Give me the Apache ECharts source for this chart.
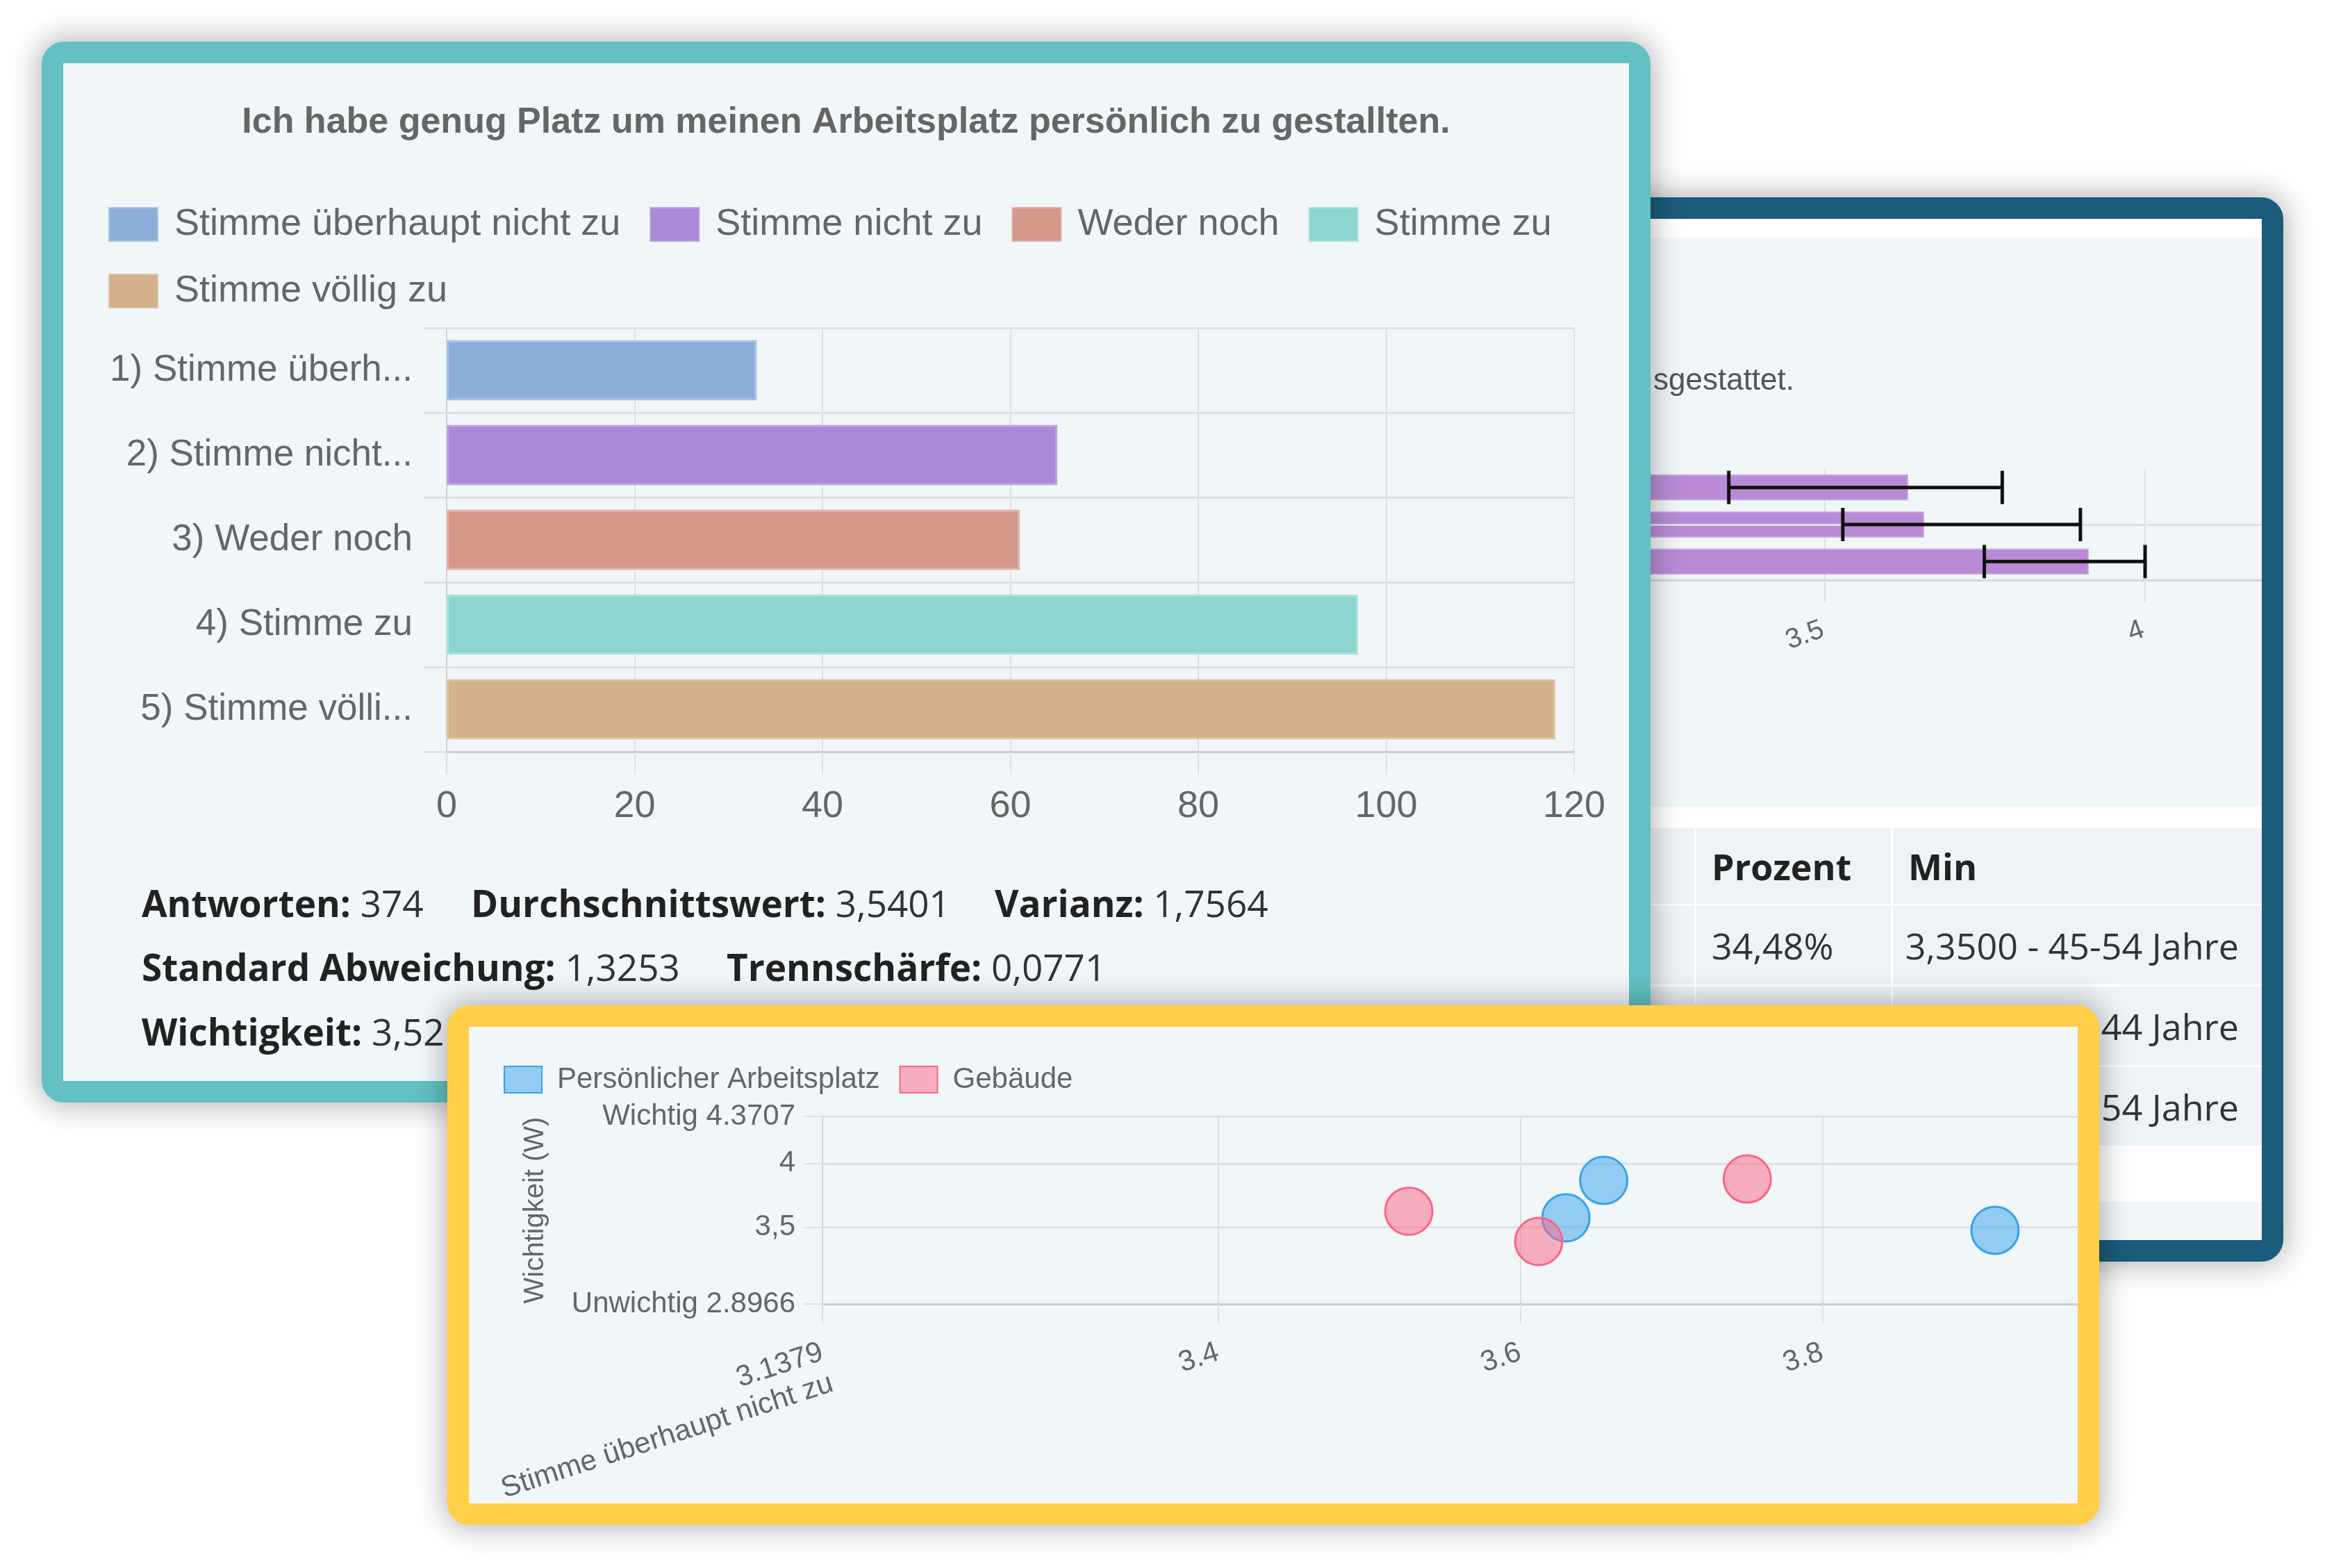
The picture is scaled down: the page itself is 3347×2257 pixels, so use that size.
<!DOCTYPE html>
<html><head><meta charset="utf-8">
<script src="https://cdn.jsdelivr.net/npm/echarts@6/dist/echarts.min.js"></script>
<style>
html,body{margin:0;padding:0;background:#fff;width:3347px;height:2257px;overflow:hidden;}
.panel{position:absolute;box-sizing:border-box;border-style:solid;border-width:31px;border-radius:32px;overflow:hidden;box-shadow:0 0 40px 6px rgba(0,0,0,0.28);}
#pRight{left:2100px;top:284px;width:1187px;height:1532px;border-color:#1b5b7b;background:#fff;z-index:1;}
#pLeft{left:60px;top:60px;width:2316px;height:1527px;border-color:#63c0c3;background:#f1f6f9;z-index:2;}
#pBottom{left:644px;top:1447px;width:2378px;height:748px;border-color:#ffcf48;background:#f1f6f9;z-index:3;}
.abs{position:absolute;}
.stat{position:absolute;font-family:'Open Sans',sans-serif;font-size:53px;line-height:70px;height:70px;color:#333;white-space:nowrap;}
.stat b{color:#222;font-weight:700;}
.cell{position:absolute;background:#eef3f6;box-sizing:border-box;font-family:'Open Sans',sans-serif;font-size:52px;color:#333;white-space:nowrap;}
.cell.h{font-weight:700;color:#222;}
</style></head>
<body>
<div id="pRight" class="panel">
  <div class="abs" style="left:0;top:27px;width:1125px;height:819px;background:#f1f6f9;"></div>
  <div id="c2" class="abs" style="left:0;top:27px;width:1500px;height:819px;"></div>
  <div id="tbl" class="abs" style="left:0;top:877px;width:1125px;height:460px;"></div>
  <div class="abs" style="left:0;top:1415px;width:1125px;height:60px;background:#f1f6f9;"></div>
</div>
<div id="pLeft" class="panel">
  <div id="c1" class="abs" style="left:0;top:0;width:2254px;height:1110px;"></div>
  <div id="stats"></div>
</div>
<div id="pBottom" class="panel">
  <div id="c3" class="abs" style="left:0;top:0;width:2400px;height:686px;"></div>
</div>
<script>
// ---------- data ----------
const answerLabels = ['1) Stimme überh...', '2) Stimme nicht...', '3) Weder noch', '4) Stimme zu', '5) Stimme völli...'];
const answerNames = ['Stimme überhaupt nicht zu', 'Stimme nicht zu', 'Weder noch', 'Stimme zu', 'Stimme völlig zu'];
const answerCounts = [33, 65, 61, 97, 118];
const countTicks = [0, 20, 40, 60, 80, 100, 120];
const chartTitle = 'Ich habe genug Platz um meinen Arbeitsplatz persönlich zu gestallten.';

const statsLines = [
  [['Antworten:', '374'], ['Durchschnittswert:', '3,5401'], ['Varianz:', '1,7564']],
  [['Standard Abweichung:', '1,3253'], ['Trennschärfe:', '0,0771']],
  [['Wichtigkeit:', '3,52']]
];

const groupTitle = 'sgestattet.';
const groupKeys = ['A', 'B', 'C'];
const groupMeans = [3.63, 3.655, 3.912];
const groupLow = [3.35, 3.528, 3.749];
const groupHigh = [3.777, 3.899, 4.0];

const tableHeader = ['', 'Prozent', 'Min'];
const tableRows = [
  ['', '34,48%', '3,3500 - 45-54 Jahre'],
  ['', '', '44 Jahre'],
  ['', '', '54 Jahre']
];

const scatterNames = ['Persönlicher Arbeitsplatz', 'Gebäude'];
const workplacePoints = [[3.630, 3.574], [3.655, 3.868], [3.914, 3.476]];
const buildingPoints = [[3.526, 3.626], [3.612, 3.388], [3.750, 3.879]];
const xMinValue = 3.1379;
const yMinValue = 2.8966;
const yMaxValue = 4.3707;
const xTickValues = [3.1379, 3.4, 3.6, 3.8];
const xTickLabels = ['3.1379\nStimme überhaupt nicht zu', '3.4', '3.6', '3.8'];
const yTickValues = [2.8966, 3.5, 4, 4.3707];
const yTickLabels = ['Unwichtig 2.8966', '3,5', '4', 'Wichtig 4.3707'];
const yAxisTitle = 'Wichtigkeit (W)';

// ---------- styles ----------
const FONT = "'Liberation Sans', Arial, sans-serif";
const GREY = '#666';
const answerColors = ['#8daed8', '#a98ad7', '#d4998a', '#8cd6cf', '#d4b18b'];
const answerBorders = ['#a9c3e3', '#bda5e1', '#e0b2a6', '#a9e2dc', '#dfc3a5'];
const GRIDC = '#dde1e4';

function lookup(vals, labels, v) {
  for (let i = 0; i < vals.length; i++) if (Math.abs(vals[i] - v) < 1e-6) return labels[i];
  return '';
}

// ---------- stats (HTML text) ----------
(function () {
  const xs = [[113, 587, 1341], [113, 955], [113]];
  const ys = [1174, 1266, 1359];
  const box = document.getElementById('stats');
  statsLines.forEach((line, li) => {
    line.forEach((seg, si) => {
      const d = document.createElement('div');
      d.className = 'stat';
      d.style.left = xs[li][si] + 'px';
      d.style.top = ys[li] + 'px';
      d.innerHTML = '<b>' + seg[0] + '</b> ' + seg[1];
      box.appendChild(d);
    });
  });
})();

// ---------- table (HTML) ----------
(function () {
  const tbl = document.getElementById('tbl');
  const colX = [0, 311, 594], colW = [308, 280, 531];
  const rowY = [0, 112, 228, 344], rowH = [109, 113, 113, 113];
  const rows = [tableHeader].concat(tableRows);
  rows.forEach((r, ri) => {
    r.forEach((txt, ci) => {
      const d = document.createElement('div');
      d.className = 'cell' + (ri === 0 ? ' h' : '');
      d.style.left = colX[ci] + 'px';
      d.style.top = rowY[ri] + 'px';
      d.style.width = colW[ci] + 'px';
      d.style.height = rowH[ri] + 'px';
      d.style.lineHeight = rowH[ri] + 'px';
      if (ci === 2 && ri > 0) { d.style.textAlign = 'right'; d.style.paddingRight = '33px'; }
      else { d.style.paddingLeft = '22px'; }
      d.textContent = txt;
      tbl.appendChild(d);
    });
  });
})();

// ---------- chart 1: horizontal bars ----------
const c1 = echarts.init(document.getElementById('c1'));
c1.setOption({
  animation: false,
  title: { text: chartTitle, left: 'center', top: 60, padding: 0,
    textStyle: { fontFamily: FONT, fontSize: 52, fontWeight: 'bold', color: GREY } },
  legend: { data: answerNames, left: 65, top: 205, width: 2110, padding: 0,
    icon: 'rect', itemWidth: 70, itemHeight: 48, itemGap: 42,
    textStyle: { fontFamily: FONT, fontSize: 54, color: GREY, padding: [0, 0, 0, 19] } },
  grid: { left: 552, top: 381, width: 1623, height: 610, containLabel: false, outerBoundsMode: 'none' },
  xAxis: { type: 'value', min: countTicks[0], max: countTicks[countTicks.length - 1], interval: countTicks[1] - countTicks[0],
    axisLine: { show: true, lineStyle: { color: '#c9cdd0', width: 3 } },
    axisTick: { show: true, length: 33, lineStyle: { color: GRIDC, width: 2 } },
    splitLine: { show: true, lineStyle: { color: GRIDC, width: 2 } },
    axisLabel: { fontFamily: FONT, fontSize: 54, color: GREY, margin: 52 } },
  yAxis: { type: 'category', data: answerLabels, inverse: true,
    axisLine: { show: true, lineStyle: { color: '#d3d7da', width: 2 } },
    axisTick: { show: true, length: 33, alignWithLabel: false, lineStyle: { color: GRIDC, width: 3 } },
    splitLine: { show: true, lineStyle: { color: GRIDC, width: 3 } },
    axisLabel: { fontFamily: FONT, fontSize: 53, color: GREY, margin: 49, interval: 0 } },
  series: answerNames.map((n, i) => ({
    name: n, type: 'bar', stack: 'all', barCategoryGap: '29%',
    data: answerLabels.map((c, j) => (j === i ? answerCounts[i] : '-')),
    itemStyle: { color: answerColors[i], borderColor: answerBorders[i], borderWidth: 3 }
  }))
});

// ---------- chart 2: group means with error bars ----------
const c2 = echarts.init(document.getElementById('c2'));
c2.setOption({
  animation: false,
  title: { text: groupTitle, left: 249, top: 185, padding: 0,
    textStyle: { fontFamily: FONT, fontSize: 44, fontWeight: 'normal', color: '#555' } },
  grid: { left: 35, top: 333, width: 1383, height: 160, containLabel: false, outerBoundsMode: 'none' },
  xAxis: { type: 'value', min: 3, max: 4.5, interval: 0.5,
    axisLine: { show: true, lineStyle: { color: '#d3d7da', width: 3 } },
    axisTick: { show: true, length: 32, lineStyle: { color: GRIDC, width: 2 } },
    splitLine: { show: true, lineStyle: { color: GRIDC, width: 2 } },
    axisLabel: { fontFamily: FONT, fontSize: 40, color: GREY, rotate: 20, align: 'right', verticalAlign: 'top', margin: 48, padding: [0, 10, 0, 0] } },
  yAxis: { type: 'category', data: groupKeys, inverse: true,
    axisLine: { show: false }, axisTick: { show: false }, splitLine: { show: false }, axisLabel: { show: false } },
  series: [
    { type: 'bar', data: groupMeans, barCategoryGap: '30%',
      itemStyle: { color: '#b98bd6', borderColor: '#c8a4e0', borderWidth: 2 },
      markLine: { silent: true, symbol: 'none', label: { show: false },
        lineStyle: { color: GRIDC, width: 3, type: 'solid' },
        data: [{ yAxis: groupKeys[1] }] } },
    { type: 'custom', data: groupKeys.map((k, i) => [i, groupLow[i], groupHigh[i]]),
      encode: { y: 0, x: [1, 2] }, z: 5,
      renderItem: function (params, api) {
        const idx = api.value(0);
        const a = api.coord([api.value(1), idx]);
        const b = api.coord([api.value(2), idx]);
        const h = api.size([0, 1])[1] * 0.45;
        const st = { stroke: '#111', lineWidth: 5 };
        return { type: 'group', children: [
          { type: 'line', shape: { x1: a[0], y1: a[1], x2: b[0], y2: b[1] }, style: st },
          { type: 'line', shape: { x1: a[0], y1: a[1] - h, x2: a[0], y2: a[1] + h }, style: st },
          { type: 'line', shape: { x1: b[0], y1: b[1] - h, x2: b[0], y2: b[1] + h }, style: st }
        ] };
      } }
  ]
});

// ---------- chart 3: scatter ----------
const c3 = echarts.init(document.getElementById('c3'));
c3.setOption({
  animation: false,
  legend: { data: scatterNames, left: 50, top: 55, padding: 0, icon: 'rect',
    itemWidth: 54, itemHeight: 38, itemGap: 28,
    textStyle: { fontFamily: FONT, fontSize: 42, color: GREY, padding: [0, 0, 0, 17] } },
  grid: { left: 509, top: 129, width: 1875, height: 270, containLabel: false, outerBoundsMode: 'none' },
  xAxis: { type: 'value', min: xMinValue, max: 4,
    axisLine: { show: true, lineStyle: { color: '#c9cdd0', width: 3 } },
    axisTick: { show: true, length: 28, customValues: xTickValues, lineStyle: { color: GRIDC, width: 2 } },
    splitLine: { show: true, lineStyle: { color: GRIDC, width: 2 } },
    axisLabel: { customValues: xTickValues, formatter: v => lookup(xTickValues, xTickLabels, v),
      fontFamily: FONT, fontSize: 42, color: GREY, rotate: 18, align: 'right', verticalAlign: 'top', margin: 44, lineHeight: 47, padding: [0, 8, 0, 0] } },
  yAxis: { type: 'value', min: yMinValue, max: yMaxValue,
    name: yAxisTitle, nameLocation: 'middle', nameGap: 393,
    nameTextStyle: { fontFamily: FONT, fontSize: 40, color: GREY },
    axisLine: { show: true, lineStyle: { color: '#d3d7da', width: 2 } },
    axisTick: { show: true, length: 27, customValues: yTickValues, lineStyle: { color: GRIDC, width: 2 } },
    splitLine: { show: true, lineStyle: { color: GRIDC, width: 3 } },
    axisLabel: { customValues: yTickValues, formatter: v => lookup(yTickValues, yTickLabels, v),
      fontFamily: FONT, fontSize: 42, color: GREY, margin: 39 } },
  series: [
    { name: scatterNames[0], type: 'scatter', data: workplacePoints, symbolSize: 68,
      itemStyle: { color: 'rgba(54,162,235,0.5)', borderColor: '#36a2eb', borderWidth: 3, opacity: 1 } },
    { name: scatterNames[1], type: 'scatter', data: buildingPoints, symbolSize: 68,
      itemStyle: { color: 'rgba(255,99,132,0.5)', borderColor: '#ff6384', borderWidth: 3, opacity: 1 } }
  ]
});
</script>
</body></html>
